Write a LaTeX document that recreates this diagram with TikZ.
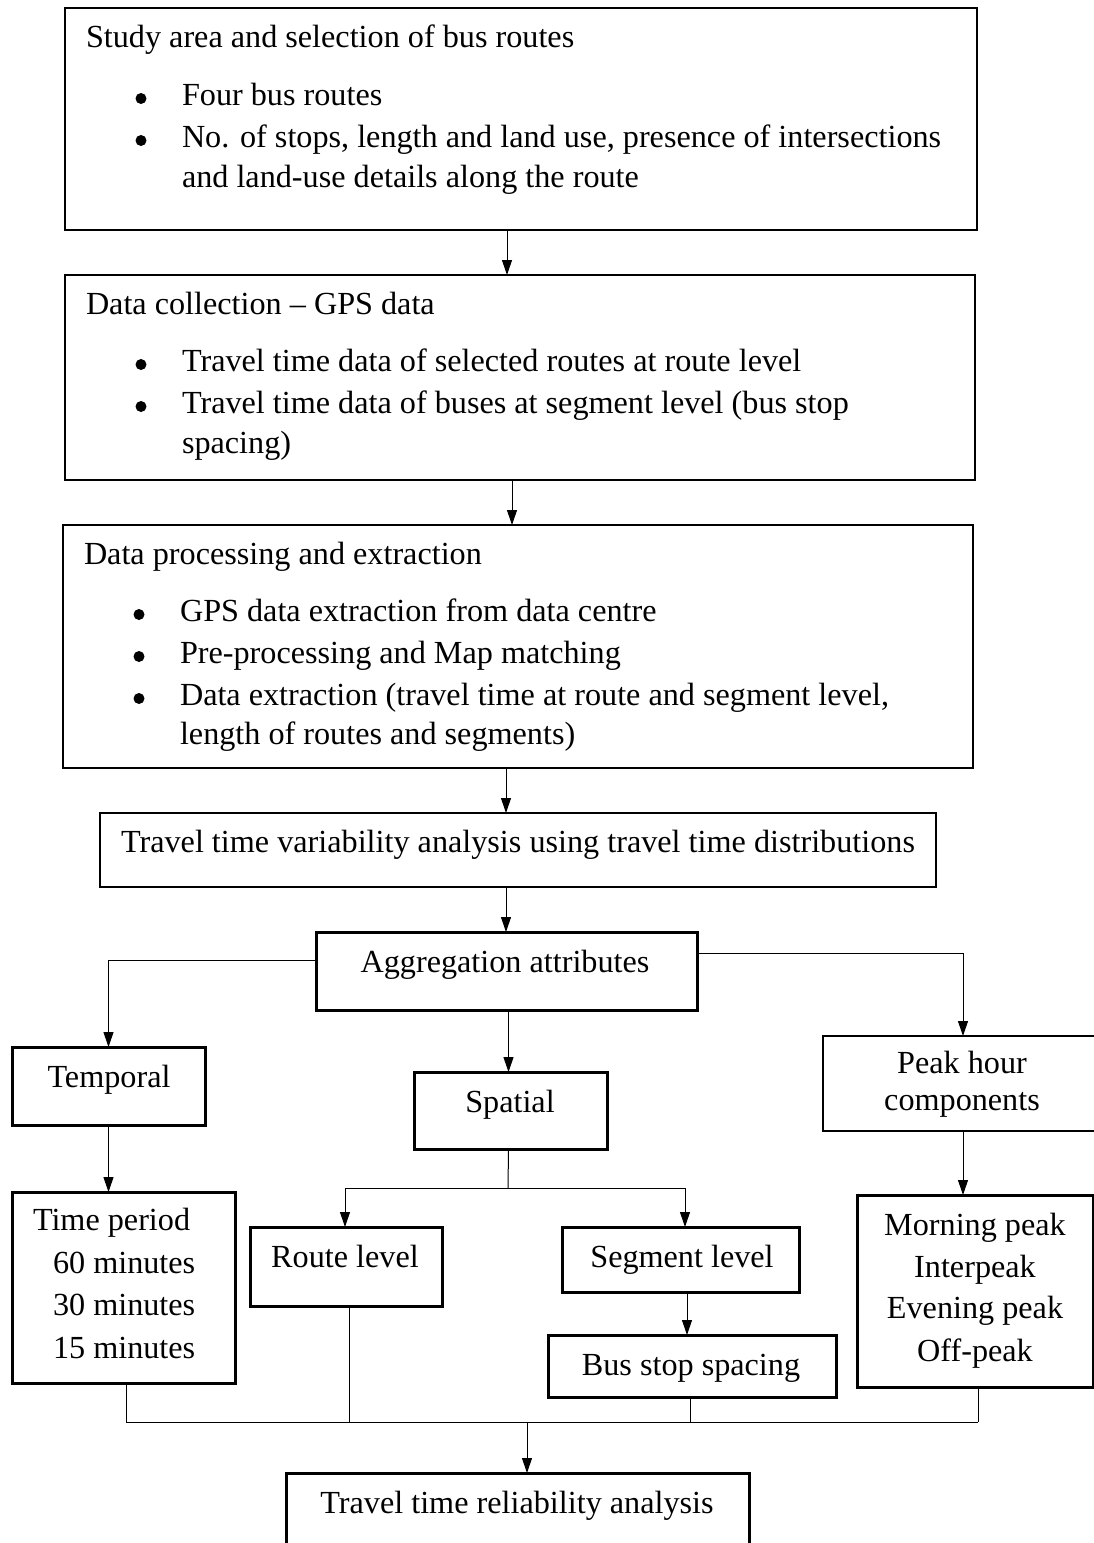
\documentclass[tikz,border=0pt]{standalone}
\usepackage{fontspec}
\setmainfont{Liberation Serif}
\usetikzlibrary{arrows.meta}
\begin{document}
\begin{tikzpicture}[x=1pt,y=-1pt,
  thinbox/.style={draw, line width=1.4pt, inner sep=0pt, outer sep=0pt, anchor=north west},
  thickbox/.style={draw, line width=3pt, inner sep=0pt, outer sep=0pt, anchor=north west},
  txt/.style={inner sep=0pt, outer sep=0pt, font=\fontsize{32.2}{39}\selectfont},
  lt/.style={txt, anchor=base west},
  ct/.style={txt, anchor=base},
  dot/.style={circle, fill, inner sep=0pt, minimum size=11pt},
  link/.style={line width=1pt},
  arr/.style={line width=1pt, -{Triangle[length=15pt,width=10pt]}}]
\useasboundingbox (0,0) rectangle (1094,1543);

% boxes
\node[thinbox, minimum width=912pt, minimum height=222pt] (b1) at (65,8) {};
\node[thinbox, minimum width=910pt, minimum height=205pt] (b2) at (65,275) {};
\node[thinbox, minimum width=910pt, minimum height=243pt] (b3) at (63,525) {};
\node[thinbox, minimum width=836pt, minimum height=74pt] (b4) at (100,813) {};
\node[thickbox, minimum width=381pt, minimum height=78pt] (agg) at (316,932) {};
\node[thickbox, minimum width=193pt, minimum height=78pt] (temp) at (12,1047) {};
\node[thickbox, minimum width=193pt, minimum height=77pt] (spat) at (414,1072) {};
\node[thinbox, line width=1.6pt, minimum width=290pt, minimum height=95pt] (peak) at (823,1036) {};
\node[thickbox, minimum width=223pt, minimum height=191pt] (tp) at (12,1192) {};
\node[thickbox, minimum width=192pt, minimum height=79pt] (route) at (250,1227) {};
\node[thickbox, minimum width=237pt, minimum height=65pt] (seg) at (562,1227) {};
\node[thickbox, minimum width=288pt, minimum height=62pt] (bus) at (548,1335) {};
\node[thickbox, minimum width=236pt, minimum height=192pt] (morn) at (857,1195) {};
\node[thickbox, minimum width=463pt, minimum height=100pt] (fin) at (286,1473) {};

% texts of the upper boxes
\node[lt] (t1) at (86,47) {Study area and selection of bus routes};
\node[dot] (t1a) at (141,98.5) {};
\node[lt] (t1b) at (182,105) {Four bus routes};
\node[dot] (t1c) at (141,140.5) {};
\node[lt] (t1d) at (182,147) {No. of stops, length and land use, presence of intersections};
\node[lt] (t1e) at (182,187) {and land-use details along the route};

\node[lt] (t2) at (86,314) {Data collection – GPS data};
\node[dot] (t2a) at (141,364.5) {};
\node[lt] (t2b) at (182,371) {Travel time data of selected routes at route level};
\node[dot] (t2c) at (141,406.5) {};
\node[lt] (t2d) at (182,413) {Travel time data of buses at segment level (bus stop};
\node[lt] (t2e) at (182,453) {spacing)};

\node[lt] (t3) at (84,564) {Data processing and extraction};
\node[dot] (t3a) at (139,614.5) {};
\node[lt] (t3b) at (180,621) {GPS data extraction from data centre};
\node[dot] (t3c) at (139,656.5) {};
\node[lt] (t3d) at (180,663) {Pre-processing and Map matching};
\node[dot] (t3e) at (139,698.5) {};
\node[lt] (t3f) at (180,705) {Data extraction (travel time at route and segment level,};
\node[lt] (t3g) at (180,744) {length of routes and segments)};

\node[ct] (t4) at (518,852) {Travel time variability analysis using travel time distributions};
\node[ct] (tagg) at (505,972) {Aggregation attributes};
\node[ct] (ttemp) at (109,1087) {Temporal};
\node[ct] (tspat) at (510,1112) {Spatial};
\node[ct] (tpk1) at (962,1073) {Peak hour};
\node[ct] (tpk2) at (962,1110) {components};

\node[lt] (ttp1) at (33,1230) {Time period};
\node[lt] (ttp2) at (53,1273) {60 minutes};
\node[lt] (ttp3) at (53,1315) {30 minutes};
\node[lt] (ttp4) at (53,1358) {15 minutes};
\node[ct] (troute) at (345,1267) {Route level};
\node[ct] (tseg) at (682,1267) {Segment level};
\node[ct] (tbus) at (691,1375) {Bus stop spacing};
\node[ct] (tm1) at (975,1235) {Morning peak};
\node[ct] (tm2) at (975,1277) {Interpeak};
\node[ct] (tm3) at (975,1318) {Evening peak};
\node[ct] (tm4) at (975,1361) {Off-peak};
\node[ct] (tfin) at (517,1513) {Travel time reliability analysis};

% vertical flow through the upper stages
\draw[arr] ([xshift=-14pt]b1.south) -- ([xshift=-14pt]b1.south |- b2.north);
\draw[arr] ([xshift=-8pt]b2.south) -- ([xshift=-8pt]b2.south |- b3.north);
\draw[arr] ([xshift=-12pt]b3.south) -- ([xshift=-12pt]b3.south |- b4.north);
\draw[arr] ([xshift=-12pt]b4.south) -- ([xshift=-12pt]b4.south |- agg.north);

% branches of the aggregation attributes
\draw[arr] ([yshift=11pt]agg.west) -| (temp.north);
\draw[arr] ([yshift=18pt]agg.east) -| ([xshift=-5pt]peak.north);
\draw[arr] ([xshift=2pt]agg.south) -- ([xshift=2pt]agg.south |- spat.north);

\draw[arr] (temp.south) -- (temp.south |- tp.north);
\draw[arr] ([xshift=-5pt]peak.south) -- ([xshift=-5pt]peak.south |- morn.north);

% spatial split
\coordinate (sp) at (508,1188);
\draw[link] ([xshift=-2pt]spat.south) -- (sp);
\draw[arr] (sp) -| ([xshift=-1pt]route.north);
\draw[arr] (sp) -| ([xshift=4.5pt]seg.north);
\draw[arr] ([xshift=6.5pt]seg.south) -- ([xshift=6.5pt]seg.south |- bus.north);

% collector towards the reliability analysis
\coordinate (jn) at (527,1422);
\draw[link] ([xshift=2.5pt]tp.south) -- ([xshift=2.5pt]tp.south |- jn);
\draw[link] ([xshift=3pt]route.south) -- ([xshift=3pt]route.south |- jn);
\draw[link] ([xshift=-2pt]bus.south) -- ([xshift=-2pt]bus.south |- jn);
\draw[link] ([xshift=3pt]morn.south) -- ([xshift=3pt]morn.south |- jn);
\draw[link] ([xshift=2.5pt]tp.south |- jn) -- ([xshift=3pt]morn.south |- jn);
\draw[arr] (jn) -- (jn |- fin.north);
\end{tikzpicture}
\end{document}
